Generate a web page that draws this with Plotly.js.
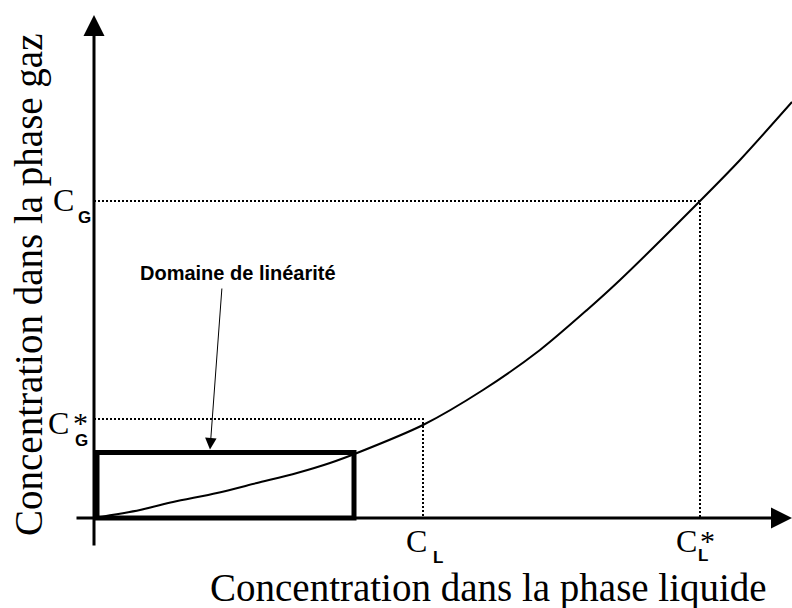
<!DOCTYPE html>
<html><head><meta charset="utf-8">
<script src="https://cdn.plot.ly/plotly-3.0.1.min.js"></script>
<style>html,body{margin:0;padding:0;background:#fff}#chart{width:792px;height:608px}</style>
</head><body><div id="chart"></div>
<script>
// Equilibrium curve: gas-phase concentration vs liquid-phase concentration (arbitrary units)
const curveX = [0, 0.46, 0.79, 1.23, 1.63, 2.03, 2.36, 2.63, 3.29, 3.89, 4.46, 4.93, 5.26, 6.06, 6.46, 6.98];
const curveY = [0, 0.08, 0.16, 0.25, 0.35, 0.45, 0.55, 0.65, 0.93, 1.28, 1.68, 2.08, 2.38, 3.17, 3.58, 4.16];

// Reference concentrations (tick positions)
const gasTickVals = [3.17, 0.99];          // C_G, C_G*
const gasTickSub = ['G', 'G'];
const gasTickStar = [false, true];
const liqTickVals = [3.29, 6.06];          // C_L, C_L*
const liqTickSub = ['L', 'L'];
const liqTickStar = [false, true];

// Dotted guide corners (liquid, gas) pairs
const guideLiq = [6.06, 3.29];
const guideGas = [3.17, 0.99];

// Linearity domain box
const linearLiq = [0.03, 2.6];
const linearGas = [0, 0.655];
const linearLabel = 'Domaine de linéarité';

// Axis extents
const xAxisExtent = [-0.19, 6.98];
const yAxisExtent = [-0.29, 5.03];

const xTitle = 'Concentration dans la phase liquide';
const yTitle = 'Concentration dans la phase gaz';

const serif = "'Times New Roman', 'Liberation Serif', serif";
const sans = "Arial, 'Liberation Sans', sans-serif";

const traces = [];
for (let i = 0; i < guideLiq.length; i++) {
  traces.push({
    x: [0, guideLiq[i], guideLiq[i]],
    y: [guideGas[i], guideGas[i], 0],
    mode: 'lines', hoverinfo: 'skip',
    line: {color: '#000', width: 2, dash: '2px,2px'}
  });
}
traces.push({
  x: curveX, y: curveY, mode: 'lines', hoverinfo: 'skip',
  line: {color: '#000', width: 2, shape: 'spline', smoothing: 0.8}
});

const ann = [];
// axes as arrows
ann.push({x: xAxisExtent[1], y: 0, ax: xAxisExtent[0], ay: 0, xref: 'x', yref: 'y', axref: 'x', ayref: 'y',
  text: '', showarrow: true, arrowhead: 2, arrowsize: 1.4, arrowwidth: 3, arrowcolor: '#000', standoff: 0});
ann.push({x: 0, y: yAxisExtent[1], ax: 0, ay: yAxisExtent[0], xref: 'x', yref: 'y', axref: 'x', ayref: 'y',
  text: '', showarrow: true, arrowhead: 2, arrowsize: 1.4, arrowwidth: 3, arrowcolor: '#000', standoff: 0});

function lbl(x, y, text, font, size, bold, xs, ys) {
  ann.push({x: x, y: y, xref: 'x', yref: 'y', text: bold ? '<b>' + text + '</b>' : text,
    showarrow: false, xanchor: 'center', yanchor: 'middle', xshift: xs, yshift: ys,
    font: {family: font, size: size, color: '#000'}});
}
// gas ticks (y axis)
for (let i = 0; i < gasTickVals.length; i++) {
  const v = gasTickVals[i];
  if (gasTickStar[i]) {
    lbl(0, v, 'C', serif, 32, false, -35.5, -3.5);
    lbl(0, v, '*', serif, 30, false, -14, -3.5);
    lbl(0, v, gasTickSub[i], sans, 17, true, -13, -21);
  } else {
    lbl(0, v, 'C', serif, 32, false, -30.5, 1.5);
    lbl(0, v, gasTickSub[i], sans, 17, true, -9.5, -16.5);
  }
}
// liquid ticks (x axis)
for (let i = 0; i < liqTickVals.length; i++) {
  const v = liqTickVals[i];
  if (liqTickStar[i]) {
    lbl(v, 0, 'C', serif, 32, false, -14, -23);
    lbl(v, 0, '*', serif, 30, false, 7.5, -22.5);
    lbl(v, 0, liqTickSub[i], sans, 17, true, 3, -37);
  } else {
    lbl(v, 0, 'C', serif, 32, false, -7, -23);
    lbl(v, 0, liqTickSub[i], sans, 17, true, 15, -39);
  }
}
// linearity label + arrow
ann.push({x: 238/792, y: 1 - 273/608, xref: 'paper', yref: 'paper', text: '<b>' + linearLabel + '</b>',
  showarrow: false, xanchor: 'center', yanchor: 'middle', font: {family: sans, size: 20, color: '#000'}});
ann.push({x: 1.16, y: linearGas[1] + 0.03, ax: 1.28, ay: 2.31, xref: 'x', yref: 'y', axref: 'x', ayref: 'y',
  text: '', showarrow: true, arrowhead: 2, arrowsize: 2.3, arrowwidth: 1, arrowcolor: '#000', standoff: 0});
// axis titles
ann.push({x: 488/792, y: 1 - 588/608, xref: 'paper', yref: 'paper', text: xTitle, showarrow: false,
  xanchor: 'center', yanchor: 'middle', font: {family: serif, size: 39, color: '#000'}});
ann.push({x: 29/792, y: 1 - 285/608, xref: 'paper', yref: 'paper', text: yTitle, showarrow: false, textangle: -90,
  xanchor: 'center', yanchor: 'middle', font: {family: serif, size: 39, color: '#000'}});

const layout = {
  width: 792, height: 608,
  margin: {l: 0, r: 0, t: 0, b: 0},
  paper_bgcolor: '#fff', plot_bgcolor: '#fff',
  showlegend: false,
  xaxis: {range: [-0.94, 6.98], visible: false, fixedrange: true},
  yaxis: {range: [-0.90, 5.18], visible: false, fixedrange: true},
  shapes: [{type: 'rect', xref: 'x', yref: 'y', x0: linearLiq[0], x1: linearLiq[1], y0: linearGas[0], y1: linearGas[1],
    line: {color: '#000', width: 5}, fillcolor: 'rgba(0,0,0,0)'}],
  annotations: ann
};
Plotly.newPlot('chart', traces, layout, {displayModeBar: false, staticPlot: true});
</script></body></html>
